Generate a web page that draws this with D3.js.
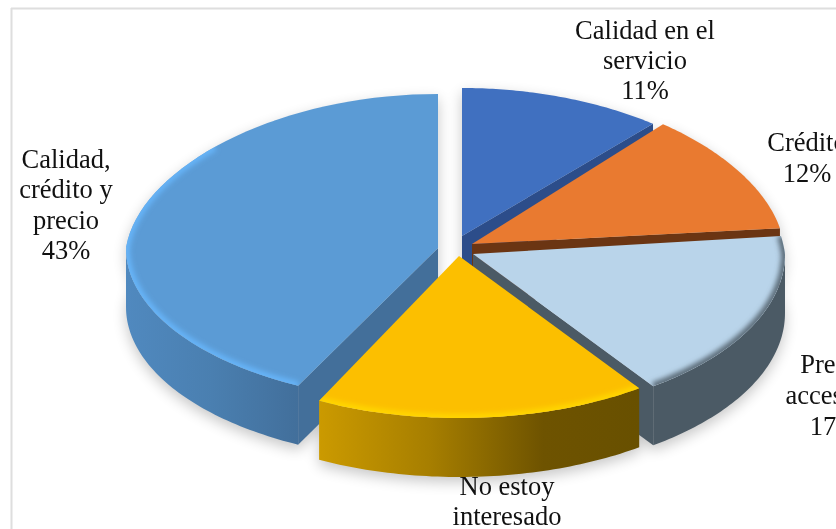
<!DOCTYPE html>
<html><head><meta charset="utf-8">
<style>html,body{margin:0;padding:0;background:#fff;overflow:hidden}svg{display:block}</style>
<script src="https://cdn.jsdelivr.net/npm/d3@7/dist/d3.min.js"></script>
</head><body><svg id="c" width="836" height="529"></svg>
<script>
const categories = ["Calidad en el servicio","Crédito","Precio accesible","No estoy interesado","Calidad, crédito y precio"];
const shares = [11.3,12.1,16.8,17.2,42.6];
const labelLines = [["Calidad en el","servicio"],["Crédito"],["Precio","accesible"],["No estoy","interesado"],["Calidad,","crédito y","precio"]];

const W=836,H=529;
const svg=d3.select("#c");
const defs=svg.append("defs");
const apexes=[[462,236],[472,244],[473,254],[459,256],[438,248]];
const ryBack=[148,158,180,152,154];
const ryFront=[158,158,162,162,154];
const topCol=["#4070c0","#e97a30","#b9d4ea","#fcbf00","#5b9bd5"];
const wallCol=["#2c4d8a","#6b3513","#4b5a65",null,"#436f9a"];
const sideStops=[[["0","#2c4d8a"],["1","#2c4d8a"]],[["0","#6b3513"],["1","#6b3513"]],[["0","#4b5a65"],["1","#4b5a65"]],
  [["0","#cb9a00"],["0.35","#a67e00"],["0.7","#6e5300"],["1","#685000"]],[["0","#5089bf"],["0.5","#4a7fb0"],["1","#426f9b"]]];
const bevelCol=[null,null,"#5c6c78","#ffd600","#66b4f8"];
const bevelWidth=[0,0,8,8,8];
const bevelFrac=[0,0,1,1,0.68];
const depth=59;
const label={ys:[[39,69],[151],[373,404],[495,525],[168,198,229]],xs:[645,807,834,507,66],
  pct:[[99],[182],[435],[],[259]]};

function proj(i,a,d=0){
  const c=Math.cos(a),s=Math.sin(a);
  const rx=c>0?312-25*c:312, ry=c>0?ryBack[i]:ryFront[i];
  return [apexes[i][0]+rx*s, apexes[i][1]-ry*c+d];
}
const pieData=d3.pie().sort(null).value(d=>d)(shares);
const lineGen=d3.line();
const arcPts=(i,a0,a1,d=0)=>d3.range(0,61).map(k=>proj(i,a0+(a1-a0)*k/60,d));

const fBlur=(id,sd)=>defs.append("filter").attr("id",id).attr("x","-20%").attr("y","-20%").attr("width","140%").attr("height","140%")
  .append("feGaussianBlur").attr("stdDeviation",sd);
fBlur("sh",7);fBlur("bev",2.4);
sideStops.forEach((st,i)=>{
  const g=defs.append("linearGradient").attr("id","side"+i);
  st.forEach(s=>g.append("stop").attr("offset",s[0]).attr("stop-color",s[1]));
});

// frame
svg.append("line").attr("x1",11).attr("x2",W).attr("y1",8.5).attr("y2",8.5).attr("stroke","#dedede").attr("stroke-width",2);
svg.append("line").attr("x1",11.5).attr("x2",11.5).attr("y1",8).attr("y2",H).attr("stroke","#dedede").attr("stroke-width",2);

const topPts=(i,p)=>[apexes[i],...arcPts(i,p.startAngle,p.endAngle)];
const sidePts=(i,a0,a1)=>[...arcPts(i,a0,a1),...arcPts(i,a1,a0,depth)];

// soft shadow
const shG=svg.append("g").attr("filter","url(#sh)").attr("opacity",0.22).attr("transform","translate(0,5)");
pieData.forEach((p,i)=>{
  const a0=p.startAngle,a1=p.endAngle;
  shG.append("path").attr("d",lineGen([...topPts(i,p),apexes[i]])+"Z").attr("fill","#000").attr("transform","translate(0,"+depth+")");
  shG.append("path").attr("d",lineGen(sidePts(i,a0,a1))+"Z").attr("fill","#000");
});

// slices, back to front
[0,1,4,2,3].forEach(i=>{
  const p=pieData[i], g=svg.append("g").attr("class","slice");
  const a0=p.startAngle,a1=p.endAngle;
  // radial wall on the edge that faces the viewer
  if(wallCol[i]){
    const e=proj(i,i===4?a0:a1), ap=apexes[i];
    g.append("path").attr("d",lineGen([ap,e,[e[0],e[1]+depth],[ap[0],ap[1]+depth]])+"Z").attr("fill",wallCol[i]);
  }
  // outer curved side: only the part facing the viewer
  const vis0=Math.max(a0,Math.PI/2), vis1=Math.min(a1,Math.PI*1.5);
  if(vis1>vis0) g.append("path").attr("d",lineGen(sidePts(i,vis0,vis1))+"Z").attr("fill","url(#side"+i+")");
  // top
  const d=lineGen(topPts(i,p))+"Z";
  defs.append("clipPath").attr("id","clip"+i).append("path").attr("d",d);
  g.append("path").attr("d",d).attr("fill",topCol[i]);
  if(bevelCol[i]){
    g.append("g").attr("clip-path","url(#clip"+i+")").append("path")
      .attr("d",lineGen(arcPts(i,a0,a0+(a1-a0)*bevelFrac[i])))
      .attr("fill","none").attr("stroke",bevelCol[i]).attr("stroke-width",bevelWidth[i]).attr("filter","url(#bev)");
  }
});

// labels
const pct=d3.format(".0f");
const tg=svg.append("g").attr("font-family","'Liberation Serif'").attr("font-size",26.5).attr("fill","#111").attr("text-anchor","middle");
labelLines.forEach((ls,i)=>{
  ls.forEach((t,k)=>tg.append("text").attr("x",label.xs[i]).attr("y",label.ys[i][k]).text(t));
  label.pct[i].forEach(y=>tg.append("text").attr("x",label.xs[i]).attr("y",y).text(pct(shares[i])+"%"));
});
</script></body></html>
